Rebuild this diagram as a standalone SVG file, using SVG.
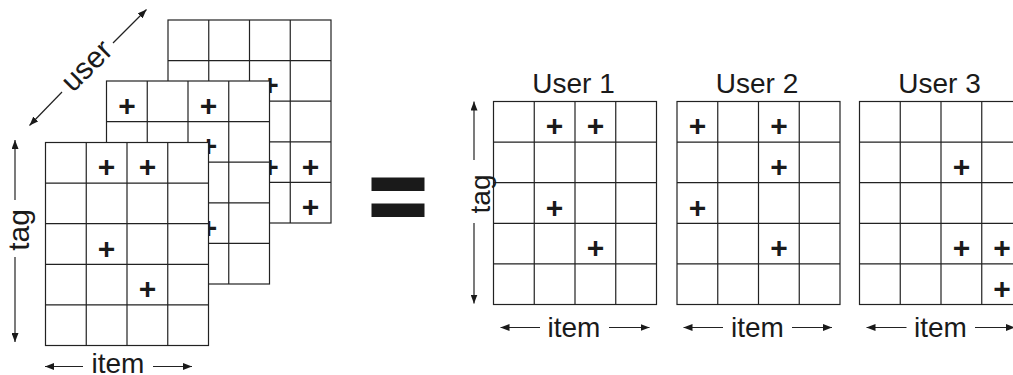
<svg xmlns="http://www.w3.org/2000/svg" xmlns:xlink="http://www.w3.org/1999/xlink" width="1013" height="375" viewBox="0 0 1013 375">
  <style>
    .cell { fill: #fff; stroke: #222; stroke-width: 1.2; }
    .rule { fill: none; stroke: #222; stroke-width: 1.2; }
    .plus { font-family: "Liberation Sans", Arial, sans-serif; font-weight: bold; font-size: 30px; fill: #1a1a1a; text-anchor: middle; }
    .label { font-family: "Liberation Sans", Arial, sans-serif; font-size: 28px; fill: #1a1a1a; text-anchor: middle; }
    .big { font-size: 30px; }
    .axis { fill: none; stroke: #222; stroke-width: 1.2; }
    .eq { fill: #1a1a1a; }
  </style>
  <defs>
    <marker id="head" viewBox="0 0 9 7" refX="9" refY="3.5" markerWidth="9" markerHeight="7" markerUnits="userSpaceOnUse" orient="auto-start-reverse">
      <path d="M0,0 L9,3.5 L0,7 Z" fill="#1a1a1a"/>
    </marker>
    <!-- 4 x 5 tag/item matrix -->
    <g id="grid">
      <rect class="cell" x="0" y="0" width="163" height="203"/>
      <path class="rule" d="M40.75,0V203 M81.5,0V203 M122.25,0V203 M0,40.6H163 M0,81.2H163 M0,121.8H163 M0,162.4H163"/>
    </g>
  </defs>

  <!-- stacked tensor: user 3 at the back, user 1 in front -->
  <g id="stack-user3" transform="translate(168,20)">
    <use href="#grid"/>
    <text class="plus" x="101.9" y="75.4">+</text>
    <text class="plus" x="101.9" y="156.6">+</text>
    <text class="plus" x="142.6" y="156.6">+</text>
    <text class="plus" x="142.6" y="197.2">+</text>
  </g>
  <g id="stack-user2" transform="translate(106.5,81)">
    <use href="#grid"/>
    <text class="plus" x="20.4" y="34.8">+</text>
    <text class="plus" x="101.9" y="34.8">+</text>
    <text class="plus" x="101.9" y="75.4">+</text>
    <text class="plus" x="20.4" y="116">+</text>
    <text class="plus" x="101.9" y="156.6">+</text>
  </g>
  <g id="stack-user1" transform="translate(45.5,142.5)">
    <use href="#grid"/>
    <text class="plus" x="61.1" y="34.8">+</text>
    <text class="plus" x="101.9" y="34.8">+</text>
    <text class="plus" x="61.1" y="116">+</text>
    <text class="plus" x="101.9" y="156.6">+</text>
  </g>

  <!-- equals sign -->
  <g id="equals">
    <rect class="eq" x="371.5" y="177.5" width="53" height="13.5"/>
    <rect class="eq" x="371.5" y="203.5" width="53" height="13.5"/>
  </g>

  <!-- per-user slices -->
  <g id="user1" transform="translate(493.5,101.5)">
    <text class="label" x="80" y="-8.5">User 1</text>
    <use href="#grid"/>
    <text class="plus" x="61.1" y="34.8">+</text>
    <text class="plus" x="101.9" y="34.8">+</text>
    <text class="plus" x="61.1" y="116">+</text>
    <text class="plus" x="101.9" y="156.6">+</text>
  </g>
  <g id="user2" transform="translate(677,101.5)">
    <text class="label" x="80" y="-8.5">User 2</text>
    <use href="#grid"/>
    <text class="plus" x="20.4" y="34.8">+</text>
    <text class="plus" x="101.9" y="34.8">+</text>
    <text class="plus" x="101.9" y="75.4">+</text>
    <text class="plus" x="20.4" y="116">+</text>
    <text class="plus" x="101.9" y="156.6">+</text>
  </g>
  <g id="user3" transform="translate(859.5,101.5)">
    <text class="label" x="80" y="-8.5">User 3</text>
    <use href="#grid"/>
    <text class="plus" x="101.9" y="75.4">+</text>
    <text class="plus" x="101.9" y="156.6">+</text>
    <text class="plus" x="142.6" y="156.6">+</text>
    <text class="plus" x="142.6" y="197.2">+</text>
  </g>

  <!-- axis arrows -->
  <g id="connectors">
    <!-- user axis (diagonal) -->
    <line class="axis" x1="62" y1="92" x2="29.5" y2="125.5" marker-end="url(#head)"/>
    <line class="axis" x1="113" y1="43" x2="146.5" y2="9.5" marker-end="url(#head)"/>
    <!-- left tag axis -->
    <line class="axis" x1="15" y1="200" x2="15" y2="140" marker-end="url(#head)"/>
    <line class="axis" x1="15" y1="257" x2="15" y2="342" marker-end="url(#head)"/>
    <!-- left item axis -->
    <line class="axis" x1="83" y1="366.5" x2="45" y2="366.5" marker-end="url(#head)"/>
    <line class="axis" x1="153" y1="366.5" x2="192" y2="366.5" marker-end="url(#head)"/>
    <!-- right tag axis -->
    <line class="axis" x1="474" y1="160" x2="474" y2="101.5" marker-end="url(#head)"/>
    <line class="axis" x1="474" y1="223" x2="474" y2="303.5" marker-end="url(#head)"/>
    <!-- item axes under each user slice -->
    <line class="axis" x1="540" y1="327.5" x2="500.5" y2="327.5" marker-end="url(#head)"/>
    <line class="axis" x1="609" y1="327.5" x2="649.5" y2="327.5" marker-end="url(#head)"/>
    <line class="axis" x1="723" y1="327.5" x2="683.5" y2="327.5" marker-end="url(#head)"/>
    <line class="axis" x1="792" y1="327.5" x2="832" y2="327.5" marker-end="url(#head)"/>
    <line class="axis" x1="906.5" y1="327.5" x2="866.5" y2="327.5" marker-end="url(#head)"/>
    <line class="axis" x1="975" y1="327.5" x2="1015" y2="327.5" marker-end="url(#head)"/>
  </g>

  <!-- axis labels -->
  <g id="axis-labels">
    <text class="label big" transform="translate(88,67) rotate(-45)" y="8">user</text>
    <text class="label big" transform="translate(29,230) rotate(-90)">tag</text>
    <text class="label" x="118" y="373">item</text>
    <text class="label" transform="translate(490,194) rotate(-90)">tag</text>
    <text class="label" x="574" y="337">item</text>
    <text class="label" x="757.5" y="337">item</text>
    <text class="label" x="940.5" y="337">item</text>
  </g>
</svg>
